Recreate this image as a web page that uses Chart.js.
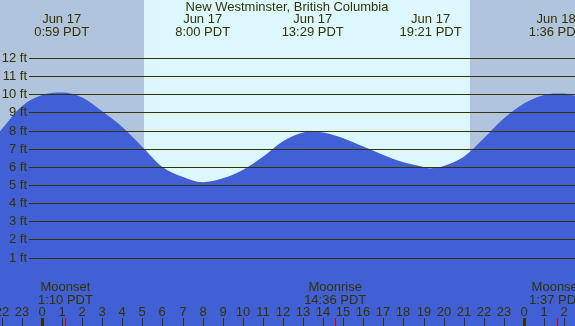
<!DOCTYPE html>
<html>
<head>
<meta charset="utf-8">
<script src="https://cdn.jsdelivr.net/npm/chart.js@4"></script>
<style>
  body { margin: 0; background: #b0c4de; }
  #wrap { width: 575px; height: 326px; position: relative; }
</style>
</head>
<body>
<div id="wrap"><canvas id="grafico"></canvas></div>
<script>
// dados (horas desde meia-noite de Jun 17, altura em ft)
const horas = [-2.1, -1, 0, 0.98, 2, 3, 4, 5, 6, 7, 8, 9, 10, 11, 12, 13, 13.48, 14, 15, 16, 17, 18, 19, 19.35, 20, 21, 22, 23, 24, 25, 25.6, 26, 26.6];
const alturas = [7.95, 9.35, 9.96, 10.1, 9.83, 9.07, 8.2, 7.1, 6.0, 5.46, 5.16, 5.37, 5.83, 6.56, 7.42, 7.9, 7.95, 7.9, 7.58, 7.12, 6.66, 6.25, 6.0, 5.93, 6.05, 6.56, 7.58, 8.68, 9.5, 9.96, 10.05, 10.05, 9.9];

const marcasPes = [1, 2, 3, 4, 5, 6, 7, 8, 9, 10, 11, 12];
const rotulosHora = [22, 23, 0, 1, 2, 3, 4, 5, 6, 7, 8, 9, 10, 11, 12, 13, 14, 15, 16, 17, 18, 19, 20, 21, 22, 23, 0, 1, 2];
const horaRotulos = [-2, -1, 0, 1, 2, 3, 4, 5, 6, 7, 8, 9, 10, 11, 12, 13, 14, 15, 16, 17, 18, 19, 20, 21, 22, 23, 24, 25, 26];

const extremos = [
  { hora: 0.98, data: "Jun 17", texto: "0:59 PDT" },
  { hora: 8.0, data: "Jun 17", texto: "8:00 PDT" },
  { hora: 13.48, data: "Jun 17", texto: "13:29 PDT" },
  { hora: 19.35, data: "Jun 17", texto: "19:21 PDT" },
  { hora: 25.6, data: "Jun 18", texto: "1:36 PDT" }
];
const lua = [
  { hora: 1.17, nome: "Moonset", texto: "1:10 PDT" },
  { hora: 14.6, nome: "Moonrise", texto: "14:36 PDT" },
  { hora: 25.62, nome: "Moonset", texto: "1:37 PDT" }
];
const nascerSol = 5.08;
const porSol = 21.31;

const corTexto = "#333300";
const fonte = "13px 'Liberation Sans', Arial, sans-serif";

const desenhos = {
  id: "desenhos",
  beforeDatasetsDraw(chart) {
    const c = chart.ctx, x = chart.scales.x, a = chart.chartArea;
    c.save();
    c.fillStyle = "#b0c4de";
    c.fillRect(a.left, a.top, a.right - a.left, a.bottom - a.top);
    const x1 = Math.round(x.getPixelForValue(nascerSol));
    const x2 = Math.round(x.getPixelForValue(porSol));
    c.fillStyle = "#ddf7ff";
    c.fillRect(x1, a.top, x2 - x1, a.bottom - a.top);
    c.restore();
  },
  afterDatasetsDraw(chart) {
    const c = chart.ctx, x = chart.scales.x, y = chart.scales.y, a = chart.chartArea;
    c.save();
    c.font = fonte;
    c.fillStyle = corTexto;
    c.strokeStyle = corTexto;
    c.lineWidth = 1;

    // linhas de altura
    c.textAlign = "right";
    c.textBaseline = "middle";
    marcasPes.forEach(p => {
      const py = Math.round(y.getPixelForValue(p)) + 0.5;
      c.beginPath();
      c.moveTo(29, py);
      c.lineTo(a.right, py);
      c.stroke();
      c.fillText(p + " ft", 27, py);
    });

    // título e extremos
    c.textAlign = "center";
    c.fillText("New Westminster, British Columbia", 287, 7);
    extremos.forEach(e => {
      const px = x.getPixelForValue(e.hora);
      c.fillText(e.data, px, 19);
      c.fillText(e.texto, px, 32);
    });

    // lua
    lua.forEach(m => {
      const px = x.getPixelForValue(m.hora);
      c.fillText(m.nome, px, 287);
      c.fillText(m.texto, px, 300);
    });

    // horas
    horaRotulos.forEach((h, i) => {
      const px = Math.round(x.getPixelForValue(h));
      c.fillText(String(rotulosHora[i]), px, 312);
      if (h % 24 === 0) {
        c.fillRect(px - 1, 318, 3, 8);
      } else {
        c.fillRect(px, 318, 1, 8);
      }
    });
    c.fillStyle = "#e00000";
    lua.forEach(m => {
      const px = Math.round(x.getPixelForValue(m.hora));
      c.fillRect(px, 318, 1, 8);
    });
    c.restore();
  }
};

new Chart(document.getElementById("grafico").getContext("2d"), {
  type: "line",
  data: {
    datasets: [{
      data: horas.map((h, i) => ({ x: h, y: alturas[i] })),
      fill: "start",
      backgroundColor: "#4160d5",
      borderWidth: 0,
      pointRadius: 0,
      cubicInterpolationMode: "monotone"
    }]
  },
  options: {
    responsive: true,
    maintainAspectRatio: false,
    animation: false,
    layout: { padding: 0 },
    plugins: { legend: { display: false }, tooltip: { enabled: false } },
    scales: {
      x: { type: "linear", min: -2.09, max: 26.54, display: false },
      y: { min: -2.77, max: 15.2, display: false }
    }
  },
  plugins: [desenhos]
});
</script>
</body>
</html>
